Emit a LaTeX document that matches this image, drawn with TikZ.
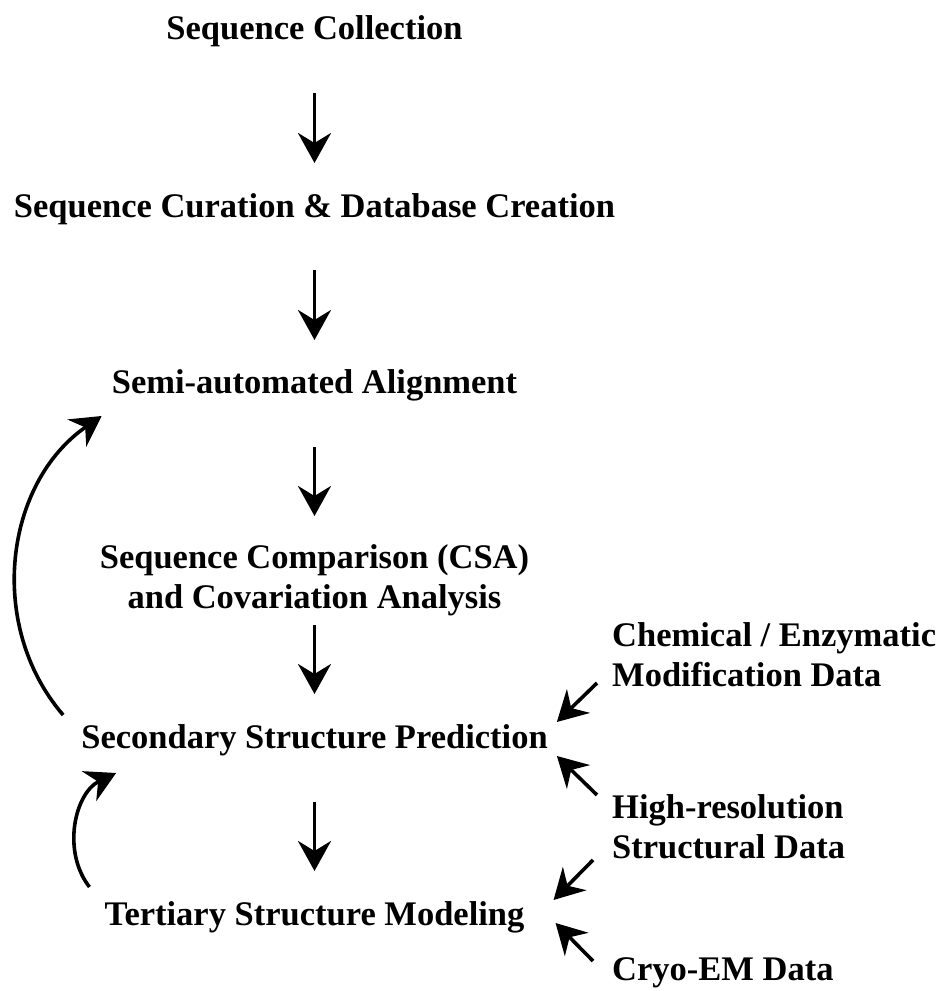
\documentclass[tikz,border=0pt]{standalone}
\usepackage{fontspec}
\setmainfont{Liberation Serif}
\usetikzlibrary{arrows.meta,calc}
\begin{document}
\begin{tikzpicture}[x=1pt,y=1pt,
  lbl/.style={inner sep=0pt, font=\fontsize{34.5}{40}\selectfont\bfseries},
  stage/.style={lbl, anchor=base, align=center},
  side/.style={lbl, anchor=base west, align=left},
  arr/.style={line width=3.6pt, -{Stealth[length=30pt,width=33pt,inset=10pt]}},
]
\useasboundingbox (0,0) rectangle (941,991);
% stages (base = last line; y = 991 - baseline)
\node[stage] (n1) at (314.5,951.5) {Sequence Collection};
\node[stage] (n2) at (314.5,773) {Sequence Curation \& Database Creation};
\node[stage] (n3) at (314.5,597) {Semi-automated Alignment};
\node[stage] (n4) at (314.5,382) {Sequence Comparison (CSA)\\and Covariation Analysis};
\node[stage] (n5) at (314.5,242) {Secondary Structure Prediction};
\node[stage] (n6) at (314.5,65) {Tertiary Structure Modeling};
% side data
\node[side] (chem) at (612,304) {Chemical / Enzymatic\\Modification Data};
\node[side] (hires) at (612,132) {High-resolution\\Structural Data};
\node[side] (cryo) at (612,10) {Cryo-EM Data};
% main arrows
\draw[arr] ([yshift=-53.5pt]n1.base) -- ([yshift=55pt]n2.base);
\draw[arr] ([yshift=-52pt]n2.base) -- ([yshift=54pt]n3.base);
\draw[arr] ([yshift=-53pt]n3.base) -- ([yshift=93pt]n4.base);
\draw[arr] ([yshift=-16pt]n4.base) -- ([yshift=55pt]n5.base);
\draw[arr] ([yshift=-53pt]n5.base) -- ([yshift=55pt]n6.base);
% diagonal arrows
\draw[arr] ($(chem.base west)+(-15,4)$) -- ($(n5.base east)+(9,27)$);
\draw[arr] ($(hires.base west)+(-15,64)$) -- ($(n5.base east)+(9,-7)$);
\draw[arr] ($(hires.base west)+(-19,-1)$) -- ($(n6.base east)+(29,26)$);
\draw[arr] ($(cryo.base west)+(-19,20)$) -- ($(n6.base east)+(31,3)$);
% feedback arrows
\draw[arr] ($(n5.base west)+(-18,34)$) to[bend left=48] ($(n3.base west)+(-10,-22)$);
\draw[arr] ($(n6.base west)+(-15,39)$) to[bend left=51] ($(n5.base west)+(35,-24)$);
\end{tikzpicture}
\end{document}
